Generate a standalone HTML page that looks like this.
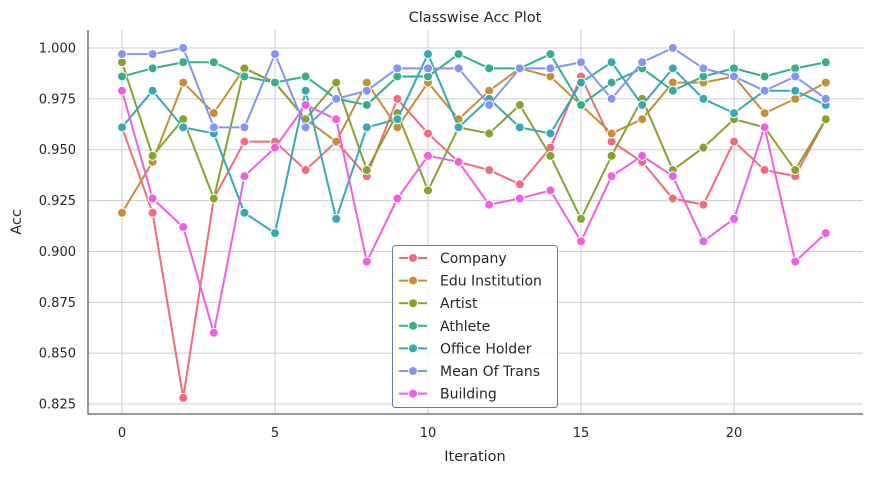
<!DOCTYPE html>
<html><head><meta charset="utf-8"><style>
body{margin:0;background:#fff;font-family:"Liberation Sans","DejaVu Sans",sans-serif}
svg text{font-family:"DejaVu Sans","Liberation Sans",sans-serif;fill:#262626}
</style></head><body>
<svg id="chart" width="872" height="474" xmlns="http://www.w3.org/2000/svg">
<g id="grid"></g><g id="axes"></g><g id="series"></g><g id="legend"></g>
<text x="475" y="22" text-anchor="middle" font-size="14.5">Classwise Acc Plot</text>
<text x="475" y="461" text-anchor="middle" font-size="14.5">Iteration</text>
<text transform="translate(21,222) rotate(-90)" text-anchor="middle" font-size="14.5">Acc</text>
</svg>
<script>
const iterations=[0,1,2,3,4,5,6,7,8,9,10,11,12,13,14,15,16,17,18,19,20,21,22,23];
const seriesNames=["Company","Edu Institution","Artist","Athlete","Office Holder","Mean Of Trans","Building"];
const company=[0.961,0.919,0.828,0.926,0.954,0.954,0.940,0.954,0.937,0.975,0.958,0.944,0.940,0.933,0.951,0.986,0.954,0.944,0.926,0.923,0.954,0.940,0.937,0.965];
const eduInstitution=[0.919,0.944,0.983,0.968,0.990,0.983,0.965,0.954,0.983,0.961,0.983,0.965,0.979,0.990,0.986,0.972,0.958,0.965,0.983,0.983,0.986,0.968,0.975,0.983];
const artist=[0.993,0.947,0.965,0.926,0.990,0.983,0.965,0.983,0.940,0.968,0.930,0.961,0.958,0.972,0.947,0.916,0.947,0.975,0.940,0.951,0.965,0.961,0.940,0.965];
const athlete=[0.986,0.990,0.993,0.993,0.986,0.983,0.986,0.975,0.972,0.986,0.986,0.997,0.990,0.990,0.997,0.972,0.983,0.990,0.979,0.986,0.990,0.986,0.990,0.993];
const officeHolder=[0.961,0.979,0.961,0.958,0.919,0.909,0.979,0.916,0.961,0.965,0.997,0.961,0.975,0.961,0.958,0.983,0.993,0.972,0.990,0.975,0.968,0.979,0.979,0.972];
const meanOfTrans=[0.997,0.997,1.000,0.961,0.961,0.997,0.961,0.975,0.979,0.990,0.990,0.990,0.972,0.990,0.990,0.993,0.975,0.993,1.000,0.990,0.986,0.979,0.986,0.975];
const building=[0.979,0.926,0.912,0.860,0.937,0.951,0.972,0.965,0.895,0.926,0.947,0.944,0.923,0.926,0.930,0.905,0.937,0.947,0.937,0.905,0.916,0.961,0.895,0.909];
const yTicks=[0.825,0.850,0.875,0.900,0.925,0.950,0.975,1.000];
const xTicks=[0,5,10,15,20];
const allSeries=[company,eduInstitution,artist,athlete,officeHolder,meanOfTrans,building];
const colors=["#f3697e","#c48f35","#85a32d","#34ae8b","#36a9b7","#8493f4","#f05ee3"];
const L=88,R=863,T=30,B=414;
const xS=i=>122+i*30.6;
const yS=v=>48+(1-v)*2034.3;
const NS="http://www.w3.org/2000/svg";
function mk(tag,attrs,parent){const e=document.createElementNS(NS,tag);for(const k in attrs)e.setAttribute(k,attrs[k]);parent.appendChild(e);return e;}
const grid=document.getElementById('grid'),axes=document.getElementById('axes'),ser=document.getElementById('series'),leg=document.getElementById('legend');
yTicks.forEach(v=>{
 const l=mk('line',{x1:L,x2:R,y1:yS(v),y2:yS(v),stroke:'#cccccc','stroke-width':1},grid);
 
 
 const t=mk('text',{x:L-12,y:yS(v)+4.5,'text-anchor':'end','font-size':13},axes);
 t.textContent=v.toFixed(3);
 
 
});
xTicks.forEach(v=>{
 const l=mk('line',{x1:xS(v),x2:xS(v),y1:T,y2:B,stroke:'#cccccc','stroke-width':1},grid);
 
 
 const t=mk('text',{x:xS(v),y:B+23,'text-anchor':'middle','font-size':13},axes);
 t.textContent=v;
 
 
});
const ax=mk('path',{d:`M${L},${T}V${B}H${R}`,fill:'none',stroke:'#333','stroke-width':1},axes);


allSeries.forEach((s,k)=>{
 const g=mk('g',{},ser);
 
 
 mk('path',{d:s.map((v,i)=>(i?'L':'M')+xS(iterations[i])+','+yS(v)).join(''),fill:'none',stroke:colors[k],'stroke-width':2},g);
 s.forEach((v,i)=>{
  const c=mk('circle',{cx:xS(iterations[i]),cy:yS(v),r:4.5,fill:colors[k],stroke:'#fff','stroke-width':1},g);
  
  
 });
});
const box=mk('rect',{x:392.5,y:245.5,width:165,height:162,rx:3,fill:'#fff','fill-opacity':0.85,stroke:'#5b7ec0','stroke-width':1},leg);


seriesNames.forEach((n,k)=>{
 const y=258+k*22.6;
 const g=mk('g',{},leg);
 
 
 mk('line',{x1:399,x2:427,y1:y,y2:y,stroke:colors[k],'stroke-width':2},g);
 mk('circle',{cx:413,cy:y,r:4.5,fill:colors[k],stroke:'#fff','stroke-width':1},g);
 const t=mk('text',{x:440,y:y+5,'font-size':14},g);
 t.textContent=n;
});
</script>
</body></html>
